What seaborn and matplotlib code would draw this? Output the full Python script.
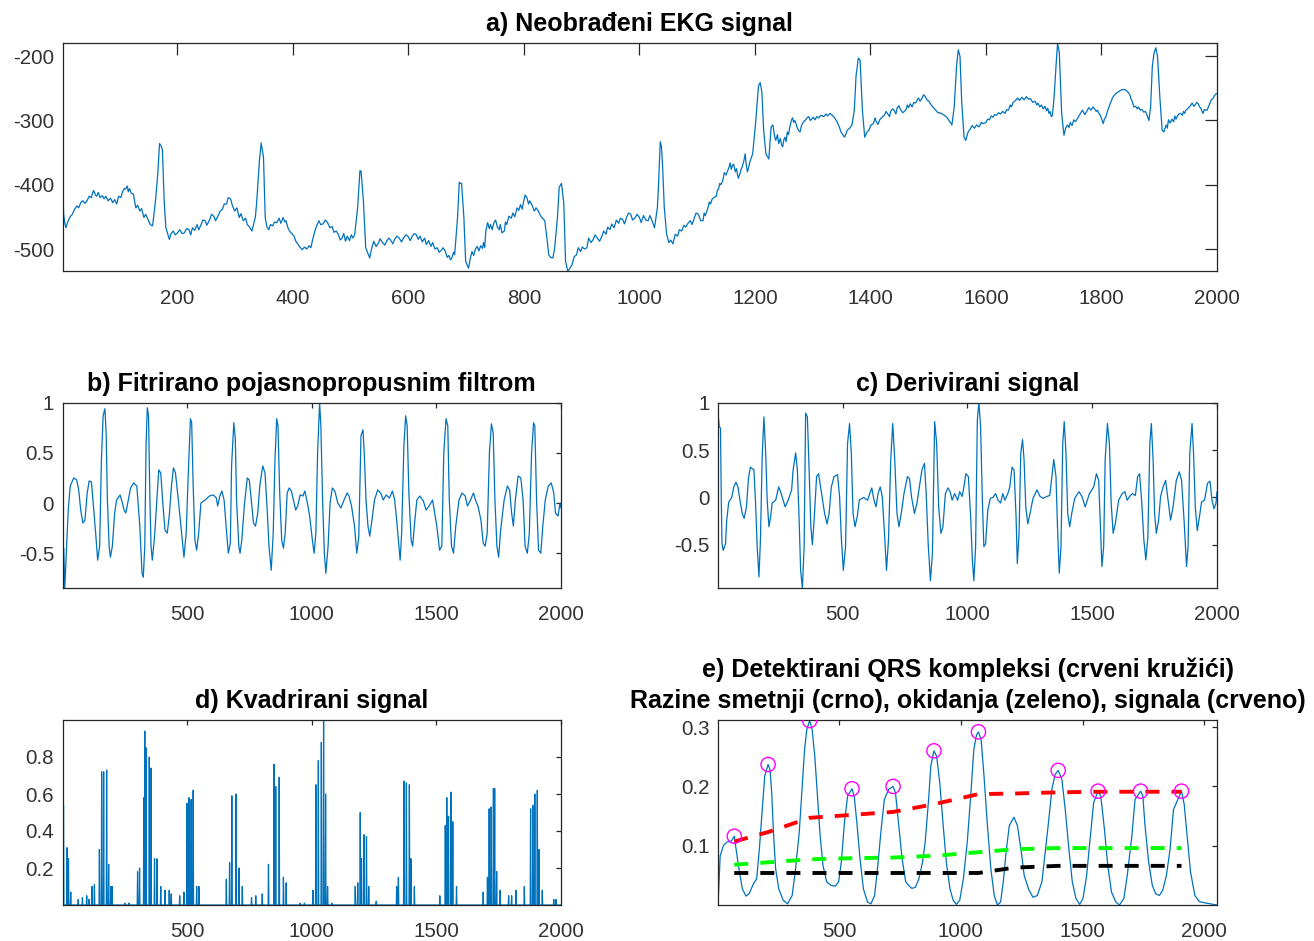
import matplotlib
matplotlib.use("Agg")
import matplotlib.pyplot as plt
import seaborn as sns

sns.set_theme(style="white")
plt.rcParams["font.family"] = ["Liberation Sans", "DejaVu Sans"]
plt.rcParams["axes.unicode_minus"] = False

LINE = "#0072BD"
AXC = "#262626"

# ---------------- a) raw ECG (sample index, amplitude) ----------------
a_pts = [
    (1, -398), (2, -420), (3, -446), (5, -460), (7, -467), (10, -458), (14, -450), (18, -446),
    (22, -438), (26, -433), (29, -436), (33, -427), (36, -425), (40, -429), (44, -424), (47, -418),
    (51, -420), (53, -413), (55, -409), (58, -416), (60, -418), (63, -412), (66, -420), (70, -417),
    (73, -422), (76, -418), (80, -425), (84, -421), (88, -428), (91, -423), (95, -430), (98, -418),
    (102, -420), (105, -411), (108, -406), (110, -407), (113, -402), (115, -411), (117, -406),
    (120, -413), (124, -415), (126, -427), (128, -436), (131, -432), (135, -441), (138, -437),
    (142, -451), (145, -446), (150, -456), (153, -462), (157, -464),
    (162, -425), (166, -383), (169, -336), (172, -340), (174, -346), (177, -425), (180, -467),
    (186, -485), (189, -476), (193, -472), (196, -478), (200, -475), (204, -470), (208, -476),
    (212, -475), (216, -468), (220, -470), (223, -478), (226, -467), (230, -471), (234, -462),
    (237, -470), (241, -462), (244, -455), (248, -456), (251, -463), (256, -454), (259, -446),
    (263, -449), (266, -456), (270, -449), (274, -441), (278, -438), (281, -430), (285, -430),
    (288, -420), (292, -422), (295, -432), (299, -441), (303, -436), (307, -451), (310, -445),
    (314, -456), (318, -452), (321, -462), (325, -466), (329, -472),
    (335, -450), (337, -430), (342, -362), (345, -335), (349, -357),
    (352, -451), (355, -466), (358, -470), (361, -462), (365, -464), (368, -458), (372, -459),
    (376, -452), (379, -460), (383, -451), (386, -458), (388, -456), (391, -466), (394, -472),
    (398, -476), (402, -480), (405, -488), (409, -493), (412, -497), (416, -501), (420, -497),
    (424, -500), (428, -495), (431, -498), (434, -486), (438, -472), (441, -464), (445, -456),
    (448, -462), (452, -461), (456, -455), (460, -459), (464, -467), (468, -465), (471, -474),
    (475, -472), (479, -478), (482, -486), (485, -483), (488, -476), (491, -488), (494, -480),
    (498, -487), (501, -478), (504, -483), (507, -477),
    (512, -436), (516, -378), (518, -379), (522, -425), (526, -498),
    (533, -514), (536, -500), (540, -488), (544, -496), (548, -491), (551, -484), (555, -490),
    (559, -494), (562, -488), (566, -483), (569, -486), (573, -492), (576, -485), (580, -480),
    (584, -483), (588, -489), (592, -482), (596, -478), (599, -480), (603, -487), (606, -481),
    (610, -476), (613, -477), (617, -485), (620, -480), (624, -489), (628, -483), (631, -493),
    (635, -487), (639, -496), (642, -490), (646, -500), (650, -498), (653, -505), (657, -502),
    (660, -498), (664, -504), (667, -513), (670, -510), (673, -517), (675, -514), (678, -505),
    (680, -509),
    (685, -451), (688, -396), (690, -398), (692, -398), (696, -451), (699, -519),
    (704, -530), (707, -515), (710, -504), (713, -510), (716, -500), (719, -496), (722, -503),
    (725, -495), (728, -499), (730, -490), (732, -498), (734, -472), (737, -459), (740, -468),
    (742, -462), (745, -470), (748, -459), (751, -455), (754, -466), (757, -470), (759, -462),
    (762, -475), (766, -472), (768, -458), (770, -462), (774, -449), (778, -452), (781, -444),
    (784, -450), (788, -436), (791, -440), (794, -431), (797, -438), (799, -428), (802, -416),
    (805, -420), (808, -430), (810, -425), (814, -432), (818, -441), (821, -436), (825, -441),
    (828, -447), (830, -450), (833, -453), (836, -456),
    (840, -485), (843, -509), (846, -513), (850, -514), (853, -500), (858, -451), (861, -404),
    (865, -398), (869, -429), (872, -519), (876, -535),
    (883, -525), (887, -512), (891, -509), (894, -498), (898, -504), (901, -497), (905, -500),
    (909, -498), (912, -483), (916, -490), (920, -485), (923, -478), (927, -483), (931, -488),
    (935, -480), (938, -472), (942, -477), (945, -466), (949, -470), (952, -461), (956, -467),
    (960, -455), (964, -460), (967, -452), (971, -454), (974, -461), (978, -450), (981, -444),
    (985, -446), (988, -455), (992, -452), (996, -446), (1000, -451), (1003, -459), (1007, -448),
    (1011, -455), (1015, -456), (1018, -448), (1021, -454), (1024, -462), (1026, -467),
    (1031, -436), (1033, -400), (1036, -333), (1038, -340), (1040, -370), (1043, -436),
    (1047, -477), (1051, -490), (1054, -486), (1058, -492), (1062, -477), (1066, -480),
    (1069, -470), (1073, -472), (1077, -463), (1080, -466), (1084, -460), (1088, -456),
    (1091, -462), (1095, -452), (1098, -444), (1102, -446), (1106, -456), (1110, -456),
    (1112, -444), (1114, -448), (1118, -438), (1121, -427), (1123, -430), (1126, -422),
    (1129, -420), (1133, -418), (1135, -408), (1137, -407), (1139, -398), (1141, -400),
    (1144, -394), (1147, -381), (1150, -385), (1153, -378), (1155, -373), (1157, -366),
    (1159, -376), (1161, -370), (1163, -368), (1166, -380), (1168, -375), (1171, -390),
    (1174, -383), (1176, -376), (1178, -372), (1181, -362), (1183, -352), (1185, -370),
    (1187, -380), (1189, -373), (1191, -365), (1193, -360), (1196, -352),
    (1201, -305), (1206, -247), (1209, -241), (1212, -256), (1215, -315), (1219, -352),
    (1224, -360),
    (1228, -310), (1231, -307), (1234, -325), (1236, -331), (1239, -322), (1241, -336),
    (1244, -328), (1246, -338), (1248, -341), (1250, -330), (1252, -326), (1254, -333),
    (1256, -318), (1258, -322), (1260, -312), (1263, -300), (1265, -296), (1267, -303),
    (1269, -300), (1271, -305), (1273, -311), (1275, -315), (1278, -318), (1280, -310),
    (1282, -305), (1285, -301), (1287, -300), (1290, -296), (1293, -294), (1296, -300),
    (1298, -298), (1301, -295), (1304, -299), (1307, -294), (1310, -296), (1314, -292),
    (1319, -294), (1323, -290), (1326, -293), (1330, -289), (1334, -292), (1338, -296),
    (1342, -302), (1346, -310), (1349, -318), (1352, -322), (1355, -326), (1358, -320),
    (1360, -315), (1364, -312), (1368, -307),
    (1372, -284), (1375, -231), (1379, -203), (1382, -206), (1386, -284),
    (1390, -326), (1394, -318), (1398, -314), (1401, -307), (1405, -305), (1408, -296),
    (1410, -302), (1413, -306), (1416, -299), (1420, -295), (1424, -292), (1427, -286),
    (1430, -290), (1433, -294), (1435, -286), (1438, -282), (1441, -284), (1444, -290),
    (1446, -281), (1449, -277), (1452, -283), (1456, -288), (1461, -284), (1464, -276),
    (1466, -280), (1469, -274), (1472, -279), (1475, -272), (1478, -273), (1481, -268),
    (1483, -265), (1486, -270), (1489, -266), (1492, -260), (1495, -263), (1498, -268),
    (1502, -271), (1505, -276), (1508, -279), (1511, -282), (1513, -284), (1517, -288),
    (1520, -288), (1524, -290), (1528, -292), (1532, -295), (1536, -300), (1539, -304),
    (1541, -307),
    (1545, -279), (1549, -216), (1552, -190), (1555, -200), (1558, -272), (1562, -326),
    (1565, -331), (1569, -318), (1573, -313), (1576, -308), (1580, -312), (1584, -307),
    (1588, -310), (1592, -303), (1595, -305), (1600, -303), (1603, -298), (1606, -299),
    (1609, -293), (1612, -295), (1615, -291), (1618, -292), (1622, -288), (1625, -290),
    (1629, -286), (1633, -289), (1636, -283), (1639, -284), (1642, -276), (1644, -279),
    (1647, -272), (1650, -270), (1653, -267), (1655, -265), (1658, -269), (1662, -264),
    (1666, -268), (1670, -263), (1673, -267), (1677, -266), (1681, -272), (1685, -270),
    (1688, -276), (1690, -273), (1693, -279), (1696, -276), (1699, -282), (1702, -278),
    (1705, -285), (1707, -281), (1709, -289), (1711, -286), (1713, -294), (1715, -292),
    (1718, -263), (1722, -205), (1724, -180), (1727, -195), (1731, -289),
    (1735, -323), (1738, -312), (1741, -307), (1744, -311), (1746, -303), (1749, -308),
    (1752, -299), (1755, -302), (1759, -296), (1763, -290), (1767, -284), (1771, -291),
    (1775, -285), (1778, -280), (1782, -284), (1785, -279), (1788, -282), (1791, -286),
    (1793, -284), (1796, -290), (1798, -292), (1801, -300), (1803, -305), (1805, -298),
    (1807, -296), (1811, -284), (1815, -274), (1819, -265), (1822, -261), (1825, -258),
    (1830, -255), (1836, -252), (1841, -252), (1846, -256), (1849, -260), (1851, -266),
    (1853, -270), (1856, -279), (1859, -278), (1862, -282), (1864, -279), (1867, -284),
    (1870, -283), (1873, -287), (1876, -286), (1879, -292), (1882, -300),
    (1885, -280), (1888, -216), (1891, -195), (1894, -187), (1897, -200), (1901, -263),
    (1905, -315), (1908, -318), (1912, -307), (1914, -312), (1916, -299), (1919, -304),
    (1922, -298), (1925, -302), (1927, -293), (1929, -298), (1931, -294), (1934, -290),
    (1937, -289), (1940, -292), (1942, -286), (1944, -289), (1946, -284), (1949, -282),
    (1951, -280), (1954, -277), (1957, -273), (1960, -278), (1962, -276), (1965, -272),
    (1968, -275), (1970, -279), (1972, -281), (1974, -286), (1976, -289), (1978, -283),
    (1980, -284), (1983, -284), (1985, -279), (1987, -275), (1990, -268), (1993, -266),
    (1995, -262), (1998, -259), (2000, -258),
]
raw_x = [p[0] for p in a_pts]
raw_y = [p[1] for p in a_pts]

# ---------------- b) band-pass filtered ----------------
b_pts = [
    (1, 0.0), (3, -0.70), (6, -0.45), (10, -0.85), (24, -0.07), (32, 0.17), (46, 0.25), (58, 0.23),
    (66, 0.13), (74, -0.07), (83, -0.20), (91, -0.17), (100, 0.10), (108, 0.22), (117, 0.21),
    (125, -0.03), (134, -0.30), (142, -0.57), (150, -0.43), (157, 0.43), (164, 0.87), (171, 0.94),
    (176, 0.70), (181, 0.03), (188, -0.43), (193, -0.54), (201, -0.43), (210, -0.10), (218, 0.03),
    (232, 0.08), (238, 0.03), (248, -0.07), (255, -0.10), (265, 0.03), (274, 0.15), (286, 0.20),
    (299, 0.17), (311, -0.23), (320, -0.70), (325, -0.74), (331, -0.43), (336, 0.57), (341, 0.95),
    (346, 0.87), (351, 0.10), (356, -0.43), (361, -0.57), (370, -0.34), (378, -0.03), (387, 0.33),
    (395, 0.30), (404, -0.03), (412, -0.27), (421, -0.30), (429, -0.13), (438, 0.17), (446, 0.35),
    (454, 0.30), (468, -0.03), (480, -0.34), (488, -0.54), (497, -0.30), (505, 0.27), (514, 0.84),
    (519, 0.80), (525, 0.17), (532, -0.37), (539, -0.47), (547, -0.30), (556, 0.0), (573, 0.03),
    (590, 0.07), (606, 0.08), (618, 0.05), (623, -0.03), (632, 0.07), (640, 0.12), (649, 0.03),
    (657, -0.23), (666, -0.50), (674, -0.40), (679, 0.37), (688, 0.80), (694, 0.64), (699, 0.03),
    (708, -0.43), (713, -0.50), (720, -0.37), (730, -0.03), (742, 0.25), (750, 0.23), (758, 0.03),
    (767, -0.20), (775, -0.23), (784, -0.10), (792, 0.17), (804, 0.37), (813, 0.30), (821, -0.03),
    (829, -0.43), (838, -0.67), (846, -0.30), (853, 0.43), (860, 0.84), (865, 0.77), (872, 0.10),
    (880, -0.37), (887, -0.45), (894, -0.30), (902, 0.10), (910, 0.15), (919, 0.12), (927, 0.03),
    (936, -0.07), (944, -0.03), (954, 0.08), (965, 0.07), (973, 0.12), (983, 0.0), (992, -0.13),
    (1003, -0.37), (1010, -0.50), (1017, -0.30), (1024, 0.50), (1032, 1.0), (1037, 0.77),
    (1044, 0.03), (1051, -0.50), (1057, -0.70), (1066, -0.43), (1074, 0.0), (1083, 0.15),
    (1093, 0.12), (1105, 0.0), (1117, -0.05), (1130, 0.03), (1142, 0.10), (1150, 0.07),
    (1160, -0.03), (1172, -0.23), (1181, -0.50), (1189, -0.34), (1198, 0.67), (1206, 0.73),
    (1211, 0.50), (1218, 0.03), (1226, -0.23), (1233, -0.33), (1242, -0.17), (1252, 0.03),
    (1265, 0.13), (1277, 0.10), (1287, 0.03), (1299, 0.08), (1312, 0.05), (1324, 0.12),
    (1333, 0.03), (1341, -0.17), (1350, -0.43), (1355, -0.57), (1361, -0.30), (1370, 0.57),
    (1377, 0.87), (1383, 0.77), (1390, 0.10), (1399, -0.37), (1405, -0.43), (1414, -0.17),
    (1422, 0.03), (1434, 0.07), (1448, 0.02), (1459, -0.07), (1471, -0.03), (1485, 0.03),
    (1502, -0.23), (1513, -0.47), (1522, -0.43), (1530, 0.50), (1539, 0.84), (1546, 0.77),
    (1552, 0.03), (1561, -0.43), (1569, -0.50), (1578, -0.23), (1591, 0.03), (1603, 0.10),
    (1616, 0.07), (1625, -0.03), (1637, 0.03), (1649, 0.10), (1657, 0.03), (1667, -0.03),
    (1679, -0.17), (1688, -0.40), (1696, -0.43), (1704, -0.30), (1713, 0.50), (1721, 0.79),
    (1728, 0.70), (1735, 0.03), (1743, -0.43), (1750, -0.54), (1758, -0.27), (1772, 0.03),
    (1785, 0.17), (1794, 0.13), (1802, -0.10), (1809, -0.23), (1817, 0.03), (1828, 0.27),
    (1839, 0.25), (1848, 0.03), (1856, -0.43), (1865, -0.50), (1873, -0.30), (1882, 0.50),
    (1890, 0.80), (1895, 0.77), (1902, 0.03), (1910, -0.47), (1919, -0.50), (1927, -0.23),
    (1937, 0.03), (1949, 0.17), (1961, 0.20), (1971, 0.10), (1978, -0.10), (1988, -0.13),
    (1996, 0.0), (2000, -0.05),
]
bp_x = [p[0] for p in b_pts]
bp_y = [p[1] for p in b_pts]

# ---------------- c) derivative ----------------
c_pts = [
    (1, 0.89), (6, 0.75), (11, 0.73), (14, 0.0), (17, -0.49), (22, -0.56), (31, -0.49), (36, -0.24),
    (44, -0.05), (56, 0.0), (64, 0.11), (73, 0.16), (81, 0.11), (89, -0.03), (98, -0.17),
    (106, -0.22), (115, -0.10), (123, 0.20), (131, 0.32), (145, 0.29), (151, -0.03), (158, -0.52),
    (165, -0.84), (171, -0.45), (178, 0.43), (185, 0.85), (192, 0.47), (198, -0.03), (205, -0.31),
    (212, -0.20), (218, -0.06), (232, -0.03), (244, 0.11), (252, 0.06), (262, -0.03), (270, -0.10),
    (282, -0.03), (296, 0.08), (302, 0.29), (312, 0.47), (319, 0.29), (326, -0.24), (332, -0.77),
    (339, -0.96), (346, -0.52), (352, 0.89), (359, 0.85), (366, 0.29), (373, -0.31), (379, -0.50),
    (386, -0.24), (396, 0.22), (404, 0.25), (416, 0.04), (428, -0.17), (438, -0.28), (446, -0.17),
    (455, 0.11), (466, 0.22), (480, 0.24), (488, 0.01), (495, -0.42), (503, -0.77), (512, -0.52),
    (520, 0.57), (528, 0.78), (535, 0.47), (542, -0.17), (550, -0.31), (559, -0.20), (567, -0.03),
    (584, 0.0), (600, -0.03), (609, 0.04), (617, 0.10), (626, -0.03), (634, -0.10), (642, 0.04),
    (651, 0.11), (659, 0.01), (668, -0.38), (676, -0.77), (684, -0.45), (693, 0.40), (701, 0.78),
    (709, 0.40), (718, -0.17), (726, -0.31), (735, -0.17), (746, 0.04), (760, 0.22), (768, 0.20),
    (776, 0.01), (788, -0.17), (798, -0.06), (810, 0.15), (818, 0.29), (828, 0.36), (835, 0.04),
    (843, -0.49), (852, -0.88), (860, -0.59), (869, 0.80), (877, 0.57), (885, -0.10), (894, -0.38),
    (902, -0.31), (912, 0.04), (922, 0.10), (931, 0.06), (939, -0.03), (949, 0.04), (961, -0.03),
    (969, 0.06), (979, 0.01), (986, 0.11), (994, 0.25), (1004, 0.22), (1013, -0.20), (1020, -0.66),
    (1026, -0.88), (1033, -0.52), (1040, 0.82), (1046, 1.0), (1053, 0.75), (1060, -0.03),
    (1066, -0.52), (1073, -0.49), (1082, -0.13), (1092, -0.01), (1103, 0.0), (1113, 0.04),
    (1123, -0.03), (1133, -0.06), (1142, 0.04), (1150, -0.03), (1162, 0.04), (1170, 0.11),
    (1179, 0.32), (1187, 0.29), (1195, -0.20), (1200, -0.70), (1207, -0.38), (1214, 0.47),
    (1221, 0.61), (1227, 0.40), (1234, -0.10), (1242, -0.28), (1251, -0.17), (1263, -0.01),
    (1279, 0.08), (1291, 0.01), (1304, -0.01), (1318, 0.01), (1330, 0.02), (1340, 0.25),
    (1346, 0.40), (1355, 0.22), (1361, -0.31), (1368, -0.80), (1375, -0.52), (1382, 0.57),
    (1388, 0.80), (1395, 0.47), (1402, -0.17), (1410, -0.31), (1418, -0.17), (1430, -0.01),
    (1447, 0.06), (1459, 0.01), (1472, -0.10), (1489, 0.04), (1506, 0.11), (1517, 0.25),
    (1526, 0.18), (1532, -0.24), (1539, -0.73), (1546, -0.52), (1552, 0.40), (1561, 0.78),
    (1569, 0.57), (1576, -0.06), (1584, -0.38), (1593, -0.27), (1606, -0.03), (1620, 0.04),
    (1631, 0.06), (1640, -0.03), (1650, 0.01), (1661, 0.04), (1673, 0.02), (1682, 0.22),
    (1690, 0.25), (1698, -0.03), (1707, -0.45), (1715, -0.66), (1723, -0.42), (1731, 0.57),
    (1737, 0.78), (1744, 0.40), (1750, -0.17), (1757, -0.38), (1766, -0.24), (1774, 0.01),
    (1784, 0.11), (1794, 0.18), (1804, -0.03), (1814, -0.24), (1824, -0.10), (1837, 0.18),
    (1849, 0.27), (1858, 0.18), (1868, -0.24), (1878, -0.73), (1884, -0.52), (1891, 0.47),
    (1900, 0.78), (1906, 0.47), (1913, -0.10), (1921, -0.35), (1930, -0.20), (1938, -0.05),
    (1950, -0.03), (1962, 0.15), (1972, 0.17), (1980, -0.03), (1988, -0.12), (1996, -0.06),
    (2000, 0.06),
]
der_x = [p[0] for p in c_pts]
der_y = [p[1] for p in c_pts]

# ---------------- d) squared signal: spikes (sample, height) ----------------
d_spikes = [
    (1, 0.82), (5, 0.54), (19, 0.31), (25, 0.25), (34, 0.07),
    (64, 0.03), (81, 0.04), (98, 0.05), (107, 0.03), (119, 0.10), (129, 0.11),
    (149, 0.30), (158, 0.72), (166, 0.72), (178, 0.73), (186, 0.22), (195, 0.10), (200, 0.10),
    (251, 0.01), (268, 0.01),
    (302, 0.18), (310, 0.20), (327, 0.58), (331, 0.94), (336, 0.85), (349, 0.80), (356, 0.74),
    (370, 0.25), (380, 0.25), (395, 0.10), (412, 0.08), (429, 0.08), (437, 0.06),
    (471, 0.05), (488, 0.07),
    (500, 0.55), (508, 0.58), (514, 0.33), (517, 0.57), (525, 0.62), (539, 0.10), (548, 0.10),
    (658, 0.14), (671, 0.23), (680, 0.59), (697, 0.60), (709, 0.20), (722, 0.10),
    (759, 0.04), (776, 0.05), (802, 0.06),
    (827, 0.22), (849, 0.76), (856, 0.64), (870, 0.69), (887, 0.15), (898, 0.12),
    (954, 0.01), (971, 0.01),
    (1005, 0.08), (1017, 0.65), (1027, 0.78), (1039, 0.88), (1048, 1.0), (1056, 0.60),
    (1064, 0.10), (1081, 0.01),
    (1175, 0.10), (1185, 0.12), (1195, 0.50), (1200, 0.25), (1210, 0.38), (1220, 0.37), (1229, 0.10),
    (1259, 0.02),
    (1341, 0.10), (1348, 0.15), (1370, 0.67), (1380, 0.66), (1392, 0.65), (1398, 0.25), (1412, 0.10),
    (1514, 0.05), (1536, 0.43), (1542, 0.58), (1549, 0.48), (1559, 0.61), (1566, 0.45), (1581, 0.10),
    (1688, 0.07), (1705, 0.15), (1712, 0.52), (1720, 0.53), (1729, 0.63), (1734, 0.63),
    (1742, 0.18), (1756, 0.08),
    (1790, 0.05), (1802, 0.05), (1819, 0.08),
    (1853, 0.10), (1878, 0.52), (1887, 0.54), (1895, 0.60), (1905, 0.62), (1912, 0.30), (1925, 0.08),
    (1971, 0.03), (1980, 0.03),
]
sq_x = [1]
sq_y = [0.0]
for sx, sy in d_spikes:
    sq_x += [max(sx - 1.5, 1), sx, sx + 1.5]
    sq_y += [0.0, sy, 0.0]
sq_x.append(2000)
sq_y.append(0.0)

# ---------------- e) moving-window integration ----------------
e_pts = [
    (1, 0.0), (10, 0.083), (23, 0.1), (37, 0.106), (56, 0.108), (68, 0.116), (83, 0.072),
    (101, 0.027), (116, 0.015), (129, 0.019), (147, 0.036), (160, 0.044), (171, 0.094),
    (183, 0.161), (193, 0.217), (207, 0.237), (215, 0.228), (222, 0.189), (229, 0.122),
    (238, 0.061), (251, 0.027), (269, 0.008), (287, 0.002), (306, 0.016), (320, 0.061),
    (335, 0.122), (348, 0.206), (357, 0.262), (366, 0.296), (378, 0.311), (388, 0.296),
    (399, 0.251), (411, 0.178), (421, 0.117), (433, 0.066), (448, 0.039), (466, 0.033),
    (484, 0.032), (497, 0.039), (508, 0.072), (521, 0.139), (534, 0.184), (552, 0.196),
    (561, 0.184), (572, 0.139), (585, 0.078), (599, 0.027), (616, 0.005), (630, 0.002),
    (645, 0.016), (658, 0.066), (672, 0.128), (685, 0.178), (703, 0.195), (721, 0.2),
    (731, 0.189), (743, 0.139), (758, 0.078), (773, 0.039), (785, 0.033), (798, 0.028),
    (813, 0.03), (827, 0.044), (842, 0.072), (853, 0.106), (867, 0.178), (876, 0.234),
    (889, 0.26), (900, 0.251), (913, 0.206), (926, 0.139), (940, 0.072), (955, 0.027),
    (968, 0.008), (981, 0.001), (995, 0.008), (1010, 0.044), (1026, 0.106), (1041, 0.189),
    (1053, 0.262), (1064, 0.287), (1072, 0.292), (1083, 0.279), (1095, 0.217), (1108, 0.139),
    (1123, 0.061), (1137, 0.016), (1150, 0.0), (1163, 0.005), (1174, 0.039), (1187, 0.094),
    (1199, 0.134), (1218, 0.148), (1232, 0.134), (1247, 0.094), (1260, 0.05), (1278, 0.027),
    (1296, 0.013), (1314, 0.016), (1333, 0.039), (1345, 0.083), (1360, 0.139), (1374, 0.195),
    (1387, 0.22), (1400, 0.227), (1415, 0.212), (1429, 0.161), (1444, 0.094), (1458, 0.039),
    (1473, 0.011), (1488, 0.001), (1502, 0.011), (1517, 0.05), (1531, 0.111), (1546, 0.173),
    (1564, 0.192), (1575, 0.184), (1590, 0.128), (1604, 0.066), (1619, 0.022), (1637, 0.005),
    (1652, 0.0), (1670, 0.011), (1684, 0.05), (1703, 0.117), (1716, 0.178), (1739, 0.192),
    (1748, 0.184), (1757, 0.134), (1772, 0.072), (1787, 0.033), (1801, 0.019), (1816, 0.016),
    (1830, 0.025), (1845, 0.05), (1860, 0.094), (1874, 0.161), (1907, 0.192), (1918, 0.17),
    (1930, 0.117), (1944, 0.056), (1962, 0.016), (1980, 0.006), (1998, 0.004), (2026, 0.002),
    (2053, 0.0),
]
mwi_x = [p[0] for p in e_pts]
mwi_y = [p[1] for p in e_pts]

# detected QRS complexes
qrs_loc = [68, 207, 378, 552, 721, 889, 1072, 1400, 1564, 1739, 1907]
qrs_amp = [0.116, 0.237, 0.311, 0.196, 0.2, 0.26, 0.292, 0.227, 0.192, 0.192, 0.192]

# adaptive levels at every detected peak
lvl_loc = [68, 207, 378, 552, 721, 889, 1072, 1218, 1400, 1564, 1739, 1907]
signal_lvl = [0.107, 0.123, 0.147, 0.152, 0.157, 0.170, 0.187, 0.188, 0.190, 0.191, 0.191, 0.191]
thresh_lvl = [0.068, 0.072, 0.077, 0.079, 0.080, 0.083, 0.089, 0.094, 0.096, 0.096, 0.096, 0.096]
noise_lvl = [0.054, 0.054, 0.054, 0.054, 0.054, 0.054, 0.054, 0.063, 0.066, 0.066, 0.066, 0.066]

titles = [
    "a) Neobrađeni EKG signal",
    "b) Fitrirano pojasnopropusnim filtrom",
    "c) Derivirani signal",
    "d) Kvadrirani signal",
    "e) Detektirani QRS kompleksi (crveni kružići)\nRazine smetnji (crno), okidanja (zeleno), signala (crveno)",
]

W, H = 1314, 941
fig = plt.figure(figsize=(W / 100, H / 100), dpi=100)
fig.patch.set_facecolor("white")


def box(l, t, r, b):
    return [l / W, 1 - b / H, (r - l) / W, (b - t) / H]


ax_a = fig.add_axes(box(62.5, 43.3, 1217, 271.5))
ax_b = fig.add_axes(box(62.5, 402.7, 561, 588.3))
ax_c = fig.add_axes(box(718, 402.7, 1217, 588.3))
ax_d = fig.add_axes(box(62.5, 720, 561, 905))
ax_e = fig.add_axes(box(718, 720, 1217, 905))

TICK_FS = 14.8
TITLE_FS = 18


def style(ax, ticklen):
    ax.set_facecolor("white")
    for s in ax.spines.values():
        s.set_color(AXC)
        s.set_linewidth(0.9)
        s.set_visible(True)
    ax.tick_params(direction="in", top=True, right=True, length=ticklen, width=0.9,
                   color=AXC, labelcolor="#333333", labelsize=TICK_FS)
    ax.tick_params(axis="x", pad=12.3)
    ax.tick_params(axis="y", pad=6.0)
    ax.grid(False)
    ax.set_xlabel("")
    ax.set_ylabel("")


def fmt(v):
    return f"{v:g}"


kw = dict(color=LINE, linewidth=0.9, estimator=None, sort=False, legend=False)

# a
sns.lineplot(x=raw_x, y=raw_y, ax=ax_a, **kw)
ax_a.set_xlim(1, 2000)
ax_a.set_ylim(min(raw_y), max(raw_y))
ax_a.set_xticks(range(200, 2001, 200))
ax_a.set_yticks([-500, -400, -300, -200])
style(ax_a, 8.3)

# b
sns.lineplot(x=bp_x, y=bp_y, ax=ax_b, **kw)
ax_b.set_xlim(1, 2000)
ax_b.set_ylim(min(bp_y), max(bp_y))
style(ax_b, 3.6)

# c
sns.lineplot(x=der_x, y=der_y, ax=ax_c, **kw)
ax_c.set_xlim(1, 2000)
ax_c.set_ylim(min(der_y), max(der_y))
style(ax_c, 3.6)

for ax in (ax_b, ax_c):
    ax.set_xticks([500, 1000, 1500, 2000])
    ax.set_yticks([-0.5, 0, 0.5, 1])
    ax.set_yticklabels([fmt(v) for v in [-0.5, 0, 0.5, 1]])

# d
sns.lineplot(x=sq_x, y=sq_y, ax=ax_d, **kw)
ax_d.set_xlim(1, 2000)
ax_d.set_ylim(0, max(sq_y))
ax_d.set_xticks([500, 1000, 1500, 2000])
ax_d.set_yticks([0.2, 0.4, 0.6, 0.8])
ax_d.set_yticklabels([fmt(v) for v in [0.2, 0.4, 0.6, 0.8]])
style(ax_d, 3.6)

# e
sns.lineplot(x=mwi_x, y=mwi_y, ax=ax_e, **kw)
sns.scatterplot(x=qrs_loc, y=qrs_amp, ax=ax_e, marker="o", s=105, facecolors="none",
                edgecolor="#FF00FF", linewidth=1.0, legend=False, zorder=4)
lvl_kw = dict(estimator=None, sort=False, legend=False, linewidth=2.8, linestyle="--")
sns.lineplot(x=lvl_loc, y=noise_lvl, ax=ax_e, color="black", **lvl_kw)
sns.lineplot(x=lvl_loc, y=signal_lvl, ax=ax_e, color="#FF0000", **lvl_kw)
sns.lineplot(x=lvl_loc, y=thresh_lvl, ax=ax_e, color="#00FF00", **lvl_kw)
for ln in ax_e.lines[1:]:
    ln.set_dashes((3.6, 3.1))
ax_e.set_xlim(1, 2053)
ax_e.set_ylim(0, max(qrs_amp) + 0.001)
ax_e.set_xticks([500, 1000, 1500, 2000])
ax_e.set_yticks([0.1, 0.2, 0.3])
ax_e.set_yticklabels([fmt(v) for v in [0.1, 0.2, 0.3]])
style(ax_e, 3.6)

for ax, t in zip([ax_a, ax_b, ax_c, ax_d, ax_e], titles):
    ax.set_title(t, fontsize=TITLE_FS, fontweight="bold", color="black", pad=8.5,
                 linespacing=1.4)

fig.savefig("out.png", dpi=100, facecolor="white")
